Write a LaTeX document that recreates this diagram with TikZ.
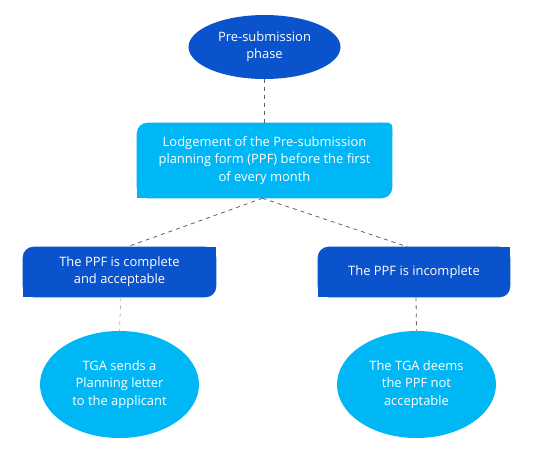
\documentclass[tikz,border=0pt]{standalone}
\usepackage{fontspec}
\setmainfont{Open Sans}
\usetikzlibrary{shapes.geometric,backgrounds}
\definecolor{darkb}{RGB}{11,83,204}
\definecolor{lightb}{RGB}{0,183,245}
\definecolor{dashg}{RGB}{95,95,95}
\definecolor{dashl}{RGB}{185,185,185}
\begin{document}
\begin{tikzpicture}[x=0.75pt,y=-0.75pt,
  txt/.style={text=white, align=center, inner sep=0pt, font=\fontsize{9.7}{12.9}\selectfont},
  oval/.style={txt, ellipse},
  box/.style={txt, rectangle},
  conn/.style={draw=dashg, dash pattern=on 3pt off 3pt, line width=0.6pt}]
\useasboundingbox (0,0) rectangle (537,455);
\node[oval, minimum width=114pt, minimum height=48pt, fill=darkb] (pre) at (264.5,47) {Pre-submission\\phase};
\node[box, minimum width=191.25pt, minimum height=56.25pt] (lodge) at (264.5,160.5) {Lodgement of the Pre-submission\\planning form (PPF) before the first\\of every month};
\node[box, minimum width=144.75pt, minimum height=37.5pt] (left) at (119.5,272) {The PPF is complete\\and acceptable};
\node[box, minimum width=144pt, minimum height=37.5pt] (right) at (414,272) {The PPF is incomplete};
\node[oval, minimum width=119.25pt, minimum height=80.25pt, fill=lightb] (tga) at (119.5,384.5) {TGA sends a\\Planning letter\\to the applicant};
\node[oval, minimum width=119.25pt, minimum height=80.25pt, fill=lightb] (deems) at (416.5,384.5) {The TGA deems\\the PPF not\\acceptable};
\begin{scope}[on background layer]
  % lodgement box
  \fill[lightb, rounded corners=8pt] (lodge.south west) rectangle (lodge.north east);
  \fill[lightb] (lodge.south west) rectangle ++(12pt,12pt);
  \fill[lightb, rounded corners=3pt] (lodge.north east) rectangle ++(-12pt,-12pt);
  % left box
  \fill[darkb, rounded corners=8pt] (left.south west) rectangle (left.north east);
  \fill[darkb] (left.south west) rectangle ++(12pt,12pt);
  \fill[darkb] (left.north east) rectangle ++(-12pt,-12pt);
  % right box
  \fill[darkb, rounded corners=8pt] (right.south west) rectangle (right.north east);
  \fill[darkb] (right.south west) rectangle ++(12pt,12pt);
  \fill[darkb] (right.north east) rectangle ++(-12pt,-12pt);
\end{scope}
\draw[conn] (pre.south) -- (lodge.north);
\draw[conn] ([xshift=-1.5pt]lodge.south) -- ([xshift=6pt]left.north);
\draw[conn] ([xshift=-1.5pt]lodge.south) -- ([xshift=-5pt]right.north);
\draw[conn, draw=dashl] ([xshift=1pt]left.south) -- (tga.north);
\draw[conn] ([xshift=1.5pt]right.south) -- (deems.north);
\end{tikzpicture}
\end{document}
